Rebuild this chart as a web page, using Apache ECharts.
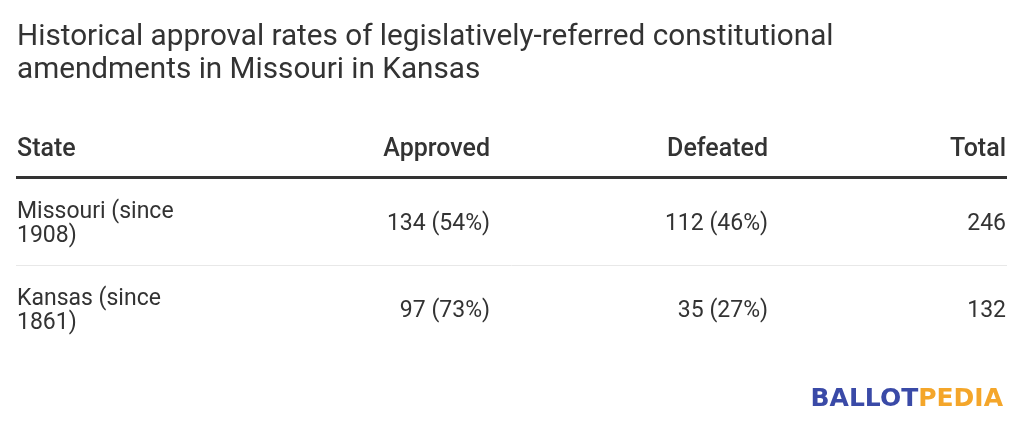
<!DOCTYPE html>
<html>
<head>
<meta charset="utf-8">
<script src="https://cdn.jsdelivr.net/npm/echarts@6/dist/echarts.min.js"></script>
<style>
  html, body { margin: 0; padding: 0; background: #fff; }
  #chart { width: 1024px; height: 431px; }
</style>
</head>
<body>
<div id="chart"></div>
<script>
const titleLines = [
  'Historical approval rates of legislatively-referred constitutional',
  'amendments in Missouri in Kansas'
]
const headers = ['State', 'Approved', 'Defeated', 'Total']
const states = ['Missouri (since 1908)', 'Kansas (since 1861)']
const approved = [134, 97]
const approvedPct = [54, 73]
const defeated = [112, 35]
const defeatedPct = [46, 27]
const totals = [246, 132]

const FONT = 'Roboto'
const TEXT = '#333333'
const colRight = [null, 490, 768, 1006]
const rowTop = [178, 265]
const rowHalf = 43.8
// canvas "middle" sits a bit above the cap-height middle, nudge text down
const dy = 2.5

const chart = echarts.init(document.getElementById('chart'))

const elements = []

titleLines.forEach((line, i) => {
  elements.push({
    type: 'text', x: 17, y: 35 + dy + i * 33.4,
    style: { text: line, fill: TEXT, font: '400 29.7px ' + FONT, verticalAlign: 'middle' }
  })
})

headers.forEach((h, i) => {
  elements.push({
    type: 'text', x: i === 0 ? 17 : colRight[i], y: 147.5 + dy,
    style: {
      text: h, fill: TEXT, font: '500 25px ' + FONT,
      align: i === 0 ? 'left' : 'right', verticalAlign: 'middle'
    }
  })
})

elements.push({
  type: 'line', shape: { x1: 16, y1: 177.5, x2: 1007, y2: 177.5 },
  style: { stroke: '#333', lineWidth: 3 }
})

states.forEach((s, r) => {
  const mid = rowTop[r] + rowHalf + dy
  const cells = [
    s,
    approved[r] + ' (' + approvedPct[r] + '%)',
    defeated[r] + ' (' + defeatedPct[r] + '%)',
    String(totals[r])
  ]
  cells.forEach((c, i) => {
    elements.push({
      type: 'text', x: i === 0 ? 17 : colRight[i], y: mid,
      style: {
        text: c, fill: TEXT, font: '400 23px ' + FONT,
        width: i === 0 ? 190 : undefined, overflow: i === 0 ? 'break' : undefined,
        lineHeight: 24.6,
        align: i === 0 ? 'left' : 'right', verticalAlign: 'middle'
      }
    })
  })
  if (r < states.length - 1) {
    elements.push({
      type: 'line', shape: { x1: 16, y1: rowTop[r + 1] + 0.5, x2: 1007, y2: rowTop[r + 1] + 0.5 },
      style: { stroke: '#e8e8e8', lineWidth: 1 }
    })
  }
})

elements.push({
  type: 'text', x: 1003, y: 399,
  style: {
    text: '{b|BALLOT}{p|PEDIA}', align: 'right', verticalAlign: 'middle',
    rich: {
      b: { fill: '#3a4aa7', font: 'bold 25px "DejaVu Sans"' },
      p: { fill: '#f4a62a', font: 'bold 25px "DejaVu Sans"' }
    }
  }
})

chart.setOption({
  backgroundColor: '#fff',
  animation: false,
  graphic: { elements: elements }
})
</script>
</body>
</html>
